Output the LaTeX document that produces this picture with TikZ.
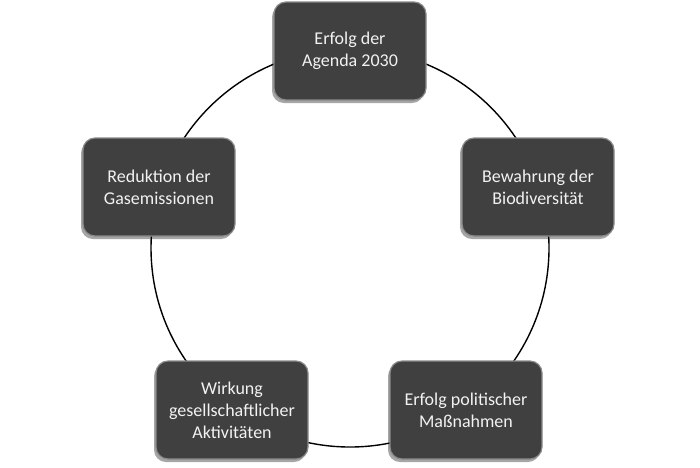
\documentclass[tikz,border=0pt]{standalone}
\usepackage{fontspec}
\setmainfont{Carlito}
\usetikzlibrary{shadows}
\definecolor{boxfill}{HTML}{404040}
\definecolor{boxedge}{HTML}{8A8A8A}
\definecolor{boxtext}{HTML}{F2F2F2}
\begin{document}
\begin{tikzpicture}[x=1pt,y=-1pt,
  cyclebox/.style={rectangle, rounded corners=12pt, minimum width=152pt, minimum height=98pt,
    fill=boxfill, draw=boxedge, line width=1.2pt, text=boxtext, align=center,
    font=\fontsize{18}{22}\selectfont,
    drop shadow={shadow xshift=-2pt, shadow yshift=-3pt, opacity=0.35, fill=black}},
  ring/.style={line width=1.4pt, draw=black}]
\useasboundingbox (0,0) rectangle (700,467);
\coordinate (c) at (350,248);
\draw[ring] (c) circle[radius=199pt];
\node[cyclebox] (a) at (350,51) {Erfolg der\\Agenda 2030};
\node[cyclebox] (b) at (538,187) {Bewahrung der\\Biodiversität};
\node[cyclebox] (d) at (466,410) {Erfolg politischer\\Maßnahmen};
\node[cyclebox] (e) at (232,410) {Wirkung\\gesellschaftlicher\\Aktivitäten};
\node[cyclebox] (f) at (159,187) {Reduktion der\\Gasemissionen};
\end{tikzpicture}
\end{document}
